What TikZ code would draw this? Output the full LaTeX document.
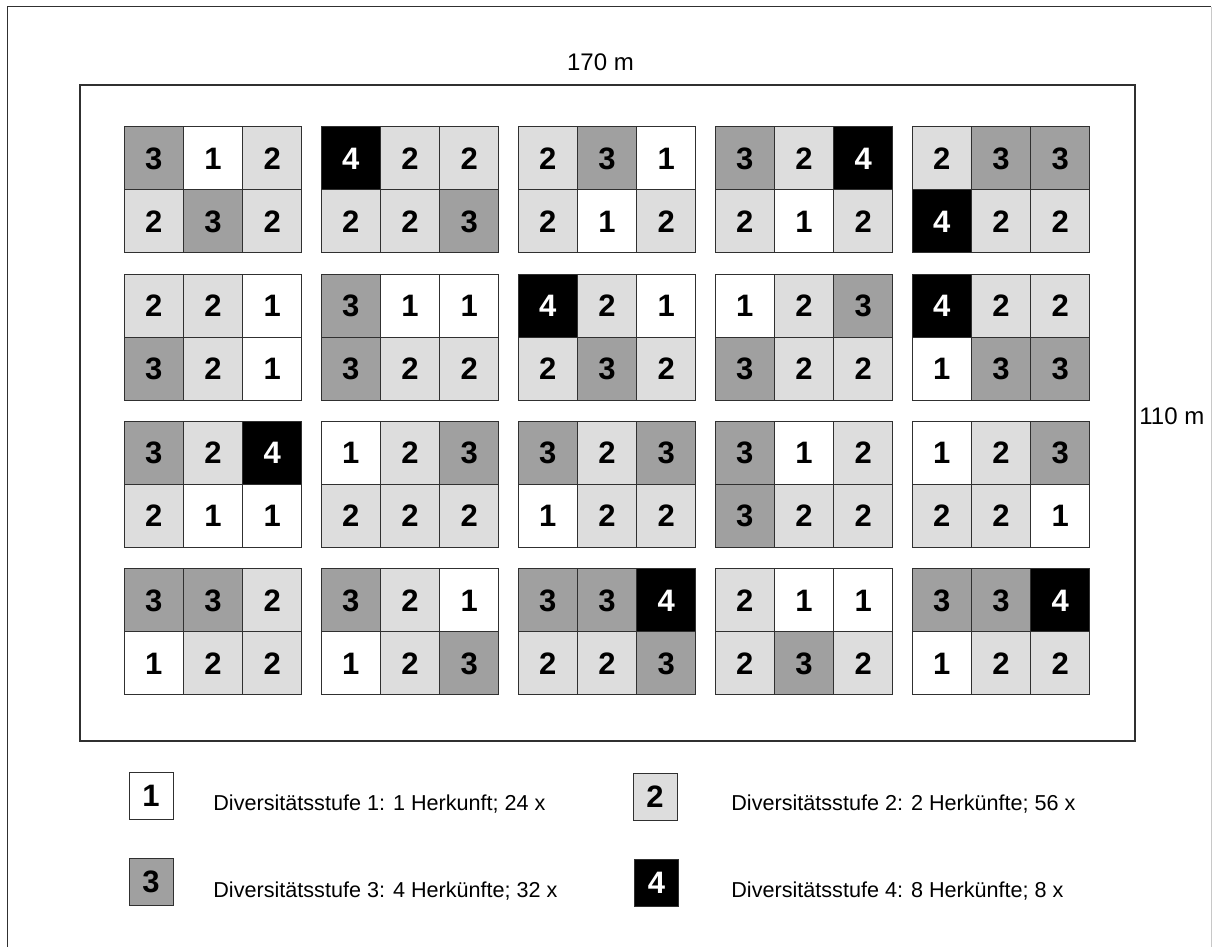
\documentclass[tikz,border=0pt]{standalone}
\usepackage{fontspec}
\setmainfont{Liberation Sans}
\usepackage{xcolor}
\definecolor{levelOne}{HTML}{FFFFFF}
\definecolor{levelTwo}{HTML}{DDDDDD}
\definecolor{levelThree}{HTML}{A0A0A0}
\definecolor{levelFour}{HTML}{000000}
\definecolor{lineGray}{HTML}{303030}
\definecolor{paleGray}{HTML}{C8C8C8}
\usepackage{tikz}
\usetikzlibrary{positioning}
\tikzset{
    % Base style for all plot cells
    plot base/.style={
        draw=lineGray,
        line width=0.5pt,
        inner sep=0pt,
        outer sep=0pt,
        minimum width=29.65pt,
        minimum height=31.5pt,
        font=\fontsize{15.5}{18}\selectfont\bfseries,
    },
    % One style per diversity level
    lvl1/.style={plot base, fill=levelOne},
    lvl2/.style={plot base, fill=levelTwo},
    lvl3/.style={plot base, fill=levelThree},
    lvl4/.style={plot base, fill=levelFour, text=white},
    % Legend squares are a bit smaller
    legend box/.style={
        minimum width=22pt,
        minimum height=23.5pt,
    },
    % Legend descriptions
    legend text/.style={
        font=\fontsize{10.8}{13}\selectfont,
        anchor=base west,
        inner sep=0pt,
    },
    % Field dimensions
    dim label/.style={
        font=\fontsize{12}{14}\selectfont,
        inner sep=0pt,
    },
}

\begin{document}
\begin{tikzpicture}[x=0.5pt, y=-0.5pt]
    \useasboundingbox (0,0) rectangle (1212,947);

    % outer frame and field
    \draw[lineGray, line width=0.5pt] (7,947) -- (7,7) -- (1211,7);
    \draw[paleGray, line width=0.5pt] (1211,7) -- (1211,947);
    \draw[lineGray, line width=0.6pt] (80,85) rectangle (1135,741);

    \node[dim label, anchor=base] (width) at (600.5,71) {170 m};
    \node[dim label, anchor=base west] (height) at (1139,424) {110 m};

    % plots: 4 rows of 5 blocks, 2 x 3 cells each
    \foreach \a/\b/\c/\d/\e/\f [count=\n from 0] in {
        3/1/2/2/3/2, 4/2/2/2/2/3, 2/3/1/2/1/2, 3/2/4/2/1/2, 2/3/3/4/2/2,
        2/2/1/3/2/1, 3/1/1/3/2/2, 4/2/1/2/3/2, 1/2/3/3/2/2, 4/2/2/1/3/3,
        3/2/4/2/1/1, 1/2/3/2/2/2, 3/2/3/1/2/2, 3/1/2/3/2/2, 1/2/3/2/2/1,
        3/3/2/1/2/2, 3/2/1/1/2/3, 3/3/4/2/2/3, 2/1/1/2/3/2, 3/3/4/1/2/2}{
        \pgfmathtruncatemacro\blkcol{mod(\n,5)}
        \pgfmathtruncatemacro\blkrow{div(\n,5)}
        \foreach \v [count=\k from 0] in {\a,\b,\c,\d,\e,\f}{
            \pgfmathsetmacro\cx{124+197*\blkcol+59.3*mod(\k,3)+29.65}
            \pgfmathsetmacro\cy{127+147.3*\blkrow+63*div(\k,3)+31.5}
            \node[lvl\v] (cell-\n-\k) at (\cx,\cy) {\v};
        }
    }

    % legend
    \node[lvl1, legend box] (leg1) at (151,795.5) {1};
    \node[lvl2, legend box] (leg2) at (655,797) {2};
    \node[lvl3, legend box] (leg3) at (151,882) {3};
    \node[lvl4, legend box] (leg4) at (656.5,883) {4};

    \node[legend text] (txt1) at (213,810) {Diversitätsstufe 1: 1 Herkunft; 24 x};
    \node[legend text] (txt2) at (731,810) {Diversitätsstufe 2: 2 Herkünfte; 56 x};
    \node[legend text] (txt3) at (213,897) {Diversitätsstufe 3: 4 Herkünfte; 32 x};
    \node[legend text] (txt4) at (731,897) {Diversitätsstufe 4: 8 Herkünfte; 8 x};
\end{tikzpicture}
\end{document}
